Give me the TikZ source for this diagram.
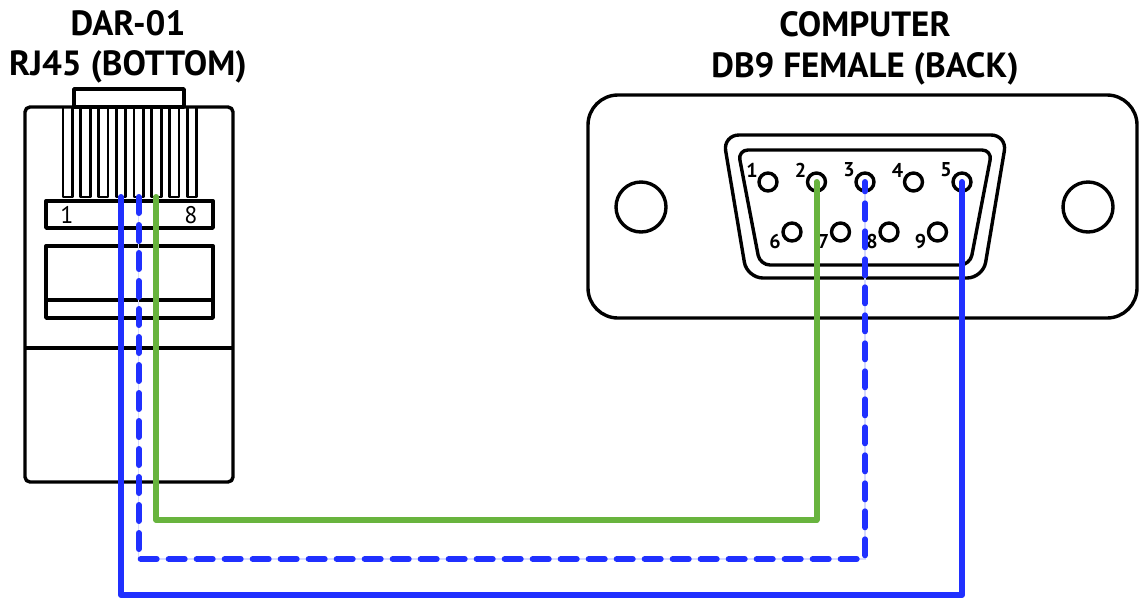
\documentclass[tikz,border=0pt]{standalone}
\usepackage{fontspec}
\setmainfont{PT Sans}
\usetikzlibrary{calc,positioning}
\definecolor{wireblue}{RGB}{32,48,255}
\definecolor{wiregreen}{RGB}{104,180,62}
\definecolor{wirehalo}{RGB}{214,218,255}

\begin{document}
\begin{tikzpicture}[%
    x=1pt,y=-1pt,%
    outline/.style={line width=3.4pt,line join=round},%
    wire/.style={line width=6pt,line cap=round,line join=round},%
    dashwire/.style={wire,wireblue,dash pattern=on 16pt off 12pt},%
    halo/.style={line width=1.5pt,wirehalo},%
    dbpin/.style={circle,draw,line width=3.4pt,minimum size=18pt,inner sep=0pt},%
    pinnum/.style={font=\fontsize{20}{20}\selectfont\bfseries,inner sep=0pt},%
    stripnum/.style={font=\fontsize{24}{24}\selectfont,inner sep=0pt},%
    title/.style={font=\fontsize{35}{35}\selectfont\bfseries,inner sep=0pt}%
  ]
  \useasboundingbox (0,0) rectangle (1139,598);%
  \def\pitch{17.75}%
  \def\dbstep{48.5}%

  % Titles
  \node[title] (rjname) at (128,23) {DAR-01};%
  \node[title] (rjtype) at (128,67) {RJ45 (BOTTOM)};%
  \node[title] (pcname) at (865,24) {COMPUTER};%
  \node[title] (pctype) at (865,69) {DB9 FEMALE (BACK)};%

  % RJ45 plug
  \draw[outline,rounded corners=5pt] (25,482) -- (25,107) -- (233,107) -- (233,482) -- cycle;%
  \draw[outline] (74,89) rectangle (184,107);%
  \draw[outline] (25,348) -- (233,348);%
  \foreach \i in {1,...,8}{%
    \draw[outline,line width=2.8pt] ({67.7+\pitch*(\i-1)-4.7},107) rectangle ({67.7+\pitch*(\i-1)+4.7},197);%
    \coordinate (c\i) at ({67.7+\pitch*(\i-1)},197);%
  }
  \draw[outline] (46,201) rectangle (213,228);%
  \draw[outline] (46,246) rectangle (213,318);%
  \draw[outline] (46,300) -- (213,300);%
  \node[stripnum] (s1) at (67,215) {1};%
  \node[stripnum] (s8) at (191,215) {8};%

  % DB9 plate
  \draw[outline,rounded corners=30pt] (588,95) rectangle (1137,318);%
  \draw[outline] (641,207) circle[radius=25];%
  \draw[outline] (1088,207) circle[radius=25];%
  \draw[outline,rounded corners=16pt] (723,135) -- (1007,135) -- (983,278) -- (747,278) -- cycle;%
  \draw[outline,rounded corners=10pt] (738,150) -- (992,150) -- (970,265) -- (760,265) -- cycle;%

  % DB9 pins
  \foreach \i in {1,...,5}{%
    \node[dbpin] (p\i) at ({768+\dbstep*(\i-1)},182) {};%
    \node[pinnum] (n\i) at ($(p\i)+(-16,-12)$) {\i};%
  }
  \foreach \i in {6,...,9}{%
    \node[dbpin] (p\i) at ({792+\dbstep*(\i-6)},232) {};%
    \node[pinnum] (n\i) at ($(p\i)+(-17,9)$) {\i};%
  }

  % Wires
  \coordinate (gturn) at (p2 |- 0,520);%
  \coordinate (dturn) at (p3 |- 0,559);%
  \coordinate (bturn) at (p5 |- 0,595);%
  \draw[wire,wiregreen] (c6) |- (gturn) -- (p2.center);%
  \draw[halo] (c5) |- (dturn) -- (p3.center);%
  \draw[dashwire] (c5) |- (dturn) -- (p3.center);%
  \draw[wire,wireblue] (c4) |- (bturn) -- (p5.center);%
\end{tikzpicture}
\end{document}
